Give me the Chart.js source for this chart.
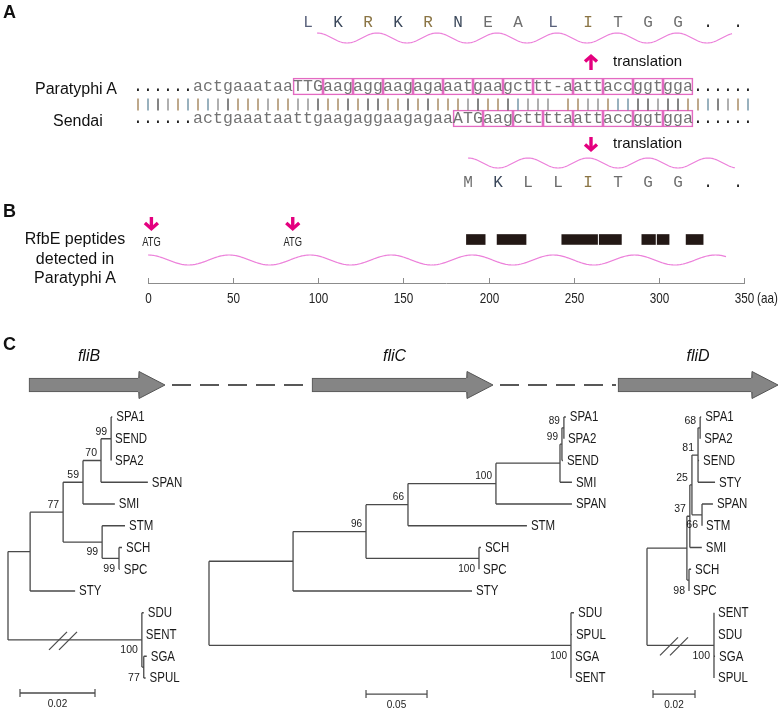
<!DOCTYPE html>
<html lang="en">
<head>
<meta charset="UTF-8">
<title>Paratyphi A rfbE / flagellin figure</title>
<script src="https://cdn.jsdelivr.net/npm/chart.js"></script>
<style>
  body { margin: 0; background: #fff; }
  #fig { position: relative; width: 778px; height: 709px; overflow: hidden; font-family: 'Liberation Sans', Arial, sans-serif; color: #111; }
  canvas { position: absolute; }
  .lab { position: absolute; white-space: nowrap; line-height: 1; }
  .panel { font-weight: bold; font-size: 18px; }
</style>
</head>
<body>
<div id="fig">
  <canvas id="chartA" width="778" height="190" style="left:0;top:0"></canvas>
  <canvas id="chartB" width="778" height="125" style="left:0;top:190px"></canvas>
  <canvas id="genes" width="778" height="70" style="left:0;top:340px"></canvas>
  <canvas id="treeB" width="200" height="310" style="left:0;top:400px"></canvas>
  <canvas id="treeC" width="420" height="310" style="left:200px;top:400px"></canvas>
  <canvas id="treeD" width="158" height="310" style="left:620px;top:400px"></canvas>

  <div class="lab panel" style="left:3px;top:3px">A</div>
  <div class="lab panel" style="left:3px;top:202px">B</div>
  <div class="lab panel" style="left:3px;top:335px">C</div>
  <div class="lab" style="left:35px;top:81px;font-size:16px">Paratyphi A</div>
  <div class="lab" style="left:53px;top:113px;font-size:16px">Sendai</div>
  <div class="lab" style="left:0;top:229px;width:150px;text-align:center;font-size:16px;line-height:19.5px">RfbE peptides<br>detected in<br>Paratyphi A</div>
</div>

<script>
  // ---- panel A : alignment around the rfbE start ----
  const seqParatyphiA = '......actgaaataaTTGaagaggaagagaaatgaagcttt-aattaccggtgga......';
  const seqSendai     = '......actgaaataattgaagaggaagagaaATGaagcttttaattaccggtgga......';
  // column where each boxed codon starts (last value = end of the last codon)
  const codonsParatyphiA = [16, 19, 22, 25, 28, 31, 34, 37, 40, 44, 47, 50, 53, 56];
  const codonsSendai     = [32, 35, 38, 41, 44, 47, 50, 53, 56];
  const aaParatyphiA = ['L', 'K', 'R', 'K', 'R', 'N', 'E', 'A', 'L', 'I', 'T', 'G', 'G', '.', '.'];
  const aaSendai     = ['M', 'K', 'L', 'L', 'I', 'T', 'G', 'G', '.', '.'];

  // ---- panel B : RfbE protein (aa) ----
  const rfbeLength = 340;
  const axisTicks = [0, 50, 100, 150, 200, 250, 300, 350];
  const atgSites = [2, 85];
  const peptides = [[187, 198], [205, 222], [243, 264], [265, 278], [290, 298], [299, 306], [316, 326]];

  // ---- panel C : flagellar genes (schematic map) and trees ----
  const genes = ['fliB', 'fliC', 'fliD'];
  const geneStart = [29, 312, 618];
  const geneEnd = [165, 493, 778];
  const treeFliB = '((((((SPA1:0.0003,SEND:0,SPA2:0)99:0.0027,SPAN:0.0125)70:0.0048,SMI:0.0085)59:0.0053,' +
    '(STM:0.0061,(SCH:0.0008,SPC:0.0002)99:0.0045)99:0.0104)77:0.0088,STY:0.012):0.0059,' +
    '(SDU:0.0005,SENT:0,(SGA:0.0008,SPUL:0.0005)77:0.0005)100:0.0357);';
  const treeFliC = '((((((((SPA1:0.0016,SPA2:0)89:0.0016,SEND:0.0008)99:0.0016,SMI:0.0098):0.0525,SPAN:0.0623)100:0.0721,' +
    'STM:0.0975)66:0.0344,(SCH:0.0016,SPC:0)100:0.0926)96:0.0598,STY:0.1467):0.0689,' +
    '(SDU:0.0025,SPUL:0.0008,SGA:0,SENT:0)100:0.2967);';
  const treeFliD = '((((((SPA1:0.0005,SPA2:0)68:0.001,SEND:0.0005,STY:0.0081)81:0.0029,(SPAN:0.0052,STM:0)66:0.0048)25:0.001,' +
    'SMI:0.0057)37:0.0014,(SCH:0.001,SPC:0)98:0.001):0.019,(SENT:0,SDU:0,SGA:0.0005,SPUL:0)100:0.0319);';
  const scaleBars = [0.02, 0.05, 0.02];

  // ---- styles ----
  const SANS = "'Liberation Sans', Arial, sans-serif";
  const MONO = "'Liberation Mono', 'Courier New', monospace";
  const PINK_BOX = '#e36ac2';
  const WAVE = '#ec80da';
  const MAGENTA = '#e4007f';
  const baseColor = { a: '#a3845a', c: '#6d90a3', g: '#505050', t: '#8e8e8e' };
  const aaColor = { L: '#58607a', K: '#3a475a', R: '#8b7545', N: '#3a475a', I: '#8b7545' };
  const rowY = { aaTop: 27, waveTop: 38, arrowUp: 62, seqTop: 86.5, match: 104.5, seqBottom: 118.5, arrowDown: 144, waveBottom: 163, aaBottom: 187 };

  const common = {
    responsive: false, animation: false, events: [],
    plugins: { legend: { display: false }, tooltip: { enabled: false } }
  };

  function line(ctx, x1, y1, x2, y2) {
    ctx.beginPath(); ctx.moveTo(x1, y1); ctx.lineTo(x2, y2); ctx.stroke();
  }

  // the figure's sans labels are condensed; squeeze Liberation Sans horizontally
  function narrowText(ctx, text, x, y, k) {
    ctx.save();
    ctx.translate(x, y);
    ctx.scale(k || 0.82, 1);
    ctx.fillText(text, 0, 0);
    ctx.restore();
  }

  function wave(ctx, xs, from, to, period, yc, amp) {
    const p0 = xs.getPixelForValue(from), p1 = xs.getPixelForValue(to);
    const pp = xs.getPixelForValue(from + period) - p0;
    ctx.save();
    ctx.strokeStyle = WAVE; ctx.lineWidth = 1.2;
    ctx.beginPath();
    for (let p = p0; p <= p1; p += 1) {
      const y = yc - amp * Math.cos(2 * Math.PI * (p - p0) / pp);
      p === p0 ? ctx.moveTo(p, y) : ctx.lineTo(p, y);
    }
    ctx.stroke();
    ctx.restore();
  }

  function arrow(ctx, x, tipY, tailY, half) {
    const d = tailY > tipY ? 1 : -1;
    ctx.save();
    ctx.strokeStyle = MAGENTA; ctx.lineWidth = 3.4; ctx.lineJoin = 'miter';
    line(ctx, x, tipY + d * 2, x, tailY);
    ctx.beginPath();
    ctx.moveTo(x - half, tipY + d * (half + 0.5));
    ctx.lineTo(x, tipY + d * 1.2);
    ctx.lineTo(x + half, tipY + d * (half + 0.5));
    ctx.stroke();
    ctx.restore();
  }

  // ---------- panel A ----------
  const codonBoxes = (starts, row) => starts.slice(0, -1).map((s, k) => ({ x: [s - 0.5, starts[k + 1] - 0.5], y: row }));
  const aaPos = starts => k => k < starts.length - 1
    ? (starts[k] + starts[k + 1] - 1) / 2
    : starts[starts.length - 1] + 1 + 3 * (k - starts.length + 1);

  const alignmentText = {
    id: 'alignmentText',
    afterDatasetsDraw(chart) {
      const { ctx, scales: { x, y } } = chart;
      const px = v => x.getPixelForValue(v), py = v => y.getPixelForValue(v);
      ctx.save();
      // identity bars
      ctx.lineWidth = 1.4;
      for (let i = 0; i < seqParatyphiA.length; i++) {
        const a = seqParatyphiA[i].toLowerCase(), b = seqSendai[i].toLowerCase();
        if (a !== b) continue;
        ctx.strokeStyle = baseColor[a] || Object.values(baseColor)[i % 4];
        line(ctx, px(i), py(rowY.match) - 6, px(i), py(rowY.match) + 6);
      }
      // nucleotides
      ctx.font = '16.5px ' + MONO;
      ctx.textAlign = 'center';
      ctx.textBaseline = 'alphabetic';
      [[seqParatyphiA, rowY.seqTop], [seqSendai, rowY.seqBottom]].forEach(([seq, row]) => {
        [...seq].forEach((c, i) => {
          ctx.fillStyle = c === '.' ? '#222' : '#737373';
          ctx.fillText(c, px(i), py(row) + 4.5);
        });
      });
      // amino acids
      ctx.font = '16px ' + MONO;
      [[aaParatyphiA, codonsParatyphiA, rowY.aaTop], [aaSendai, codonsSendai, rowY.aaBottom]].forEach(([aa, cod, row]) => {
        const pos = aaPos(cod);
        aa.forEach((a, k) => {
          ctx.fillStyle = aa === aaSendai && a === 'L' ? '#6a6a6a' : (aaColor[a] || (a === '.' ? '#222' : '#6e6e6e'));
          ctx.fillText(a, px(pos(k)), py(row));
        });
      });
      // protein waves
      wave(ctx, x, 17.9, 59.4, 6, py(rowY.waveTop), 5);
      wave(ctx, x, 33, 59.7, 6, py(rowY.waveBottom), 5);
      // translation arrows
      const ax = px(45.3);
      arrow(ctx, ax, py(rowY.arrowUp) - 7, py(rowY.arrowUp) + 8, 6);
      arrow(ctx, ax, py(rowY.arrowDown) + 7, py(rowY.arrowDown) - 7, 6);
      ctx.fillStyle = '#111';
      ctx.font = '15px ' + SANS;
      ctx.textAlign = 'left';
      ctx.textBaseline = 'middle';
      ctx.fillText('translation', ax + 22, py(rowY.arrowUp));
      ctx.fillText('translation', ax + 22, py(rowY.arrowDown));
      ctx.restore();
    }
  };

  new Chart(document.getElementById('chartA'), {
    type: 'bar',
    data: {
      datasets: [{
        label: 'codons',
        data: [...codonBoxes(codonsParatyphiA, rowY.seqTop), ...codonBoxes(codonsSendai, rowY.seqBottom)],
        backgroundColor: 'rgba(0,0,0,0)',
        borderColor: PINK_BOX,
        borderWidth: 1,
        borderSkipped: false,
        barThickness: 17
      }]
    },
    options: {
      ...common,
      indexAxis: 'y',
      layout: { padding: 0 },
      scales: {
        x: { type: 'linear', display: false, min: -13.8, max: 64 },
        y: { type: 'linear', display: false, reverse: true, min: 0, max: 190, offset: false }
      }
    },
    plugins: [alignmentText]
  });

  // ---------- panel B ----------
  const peptideDecor = {
    id: 'peptideDecor',
    afterDatasetsDraw(chart) {
      const { ctx, chartArea, scales: { x, y } } = chart;
      const yc = y.getPixelForValue(0);
      const axisY = chartArea.bottom;
      ctx.save();
      // axis ticks point up, labels squeezed like the original
      ctx.strokeStyle = '#8c8c8c'; ctx.lineWidth = 1;
      ctx.fillStyle = '#222';
      ctx.font = '15px ' + SANS;
      ctx.textAlign = 'center'; ctx.textBaseline = 'middle';
      x.ticks.forEach((t, i) => {
        const tx = Math.round(x.getPixelForTick(i)) + 0.5;
        line(ctx, tx, axisY, tx, axisY - 5);
        narrowText(ctx, String(t.value), tx, axisY + 16, 0.78);
      });
      ctx.textAlign = 'left';
      narrowText(ctx, '(aa)', x.getPixelForValue(350) + 13, axisY + 16, 0.78);
      // start codons
      ctx.font = '12px ' + SANS;
      ctx.textAlign = 'center';
      atgSites.forEach(a => {
        const ax = x.getPixelForValue(a);
        arrow(ctx, ax, yc - 9.5, yc - 22.5, 6.5);
        ctx.fillStyle = '#222';
        narrowText(ctx, 'ATG', ax, yc + 3, 0.78);
      });
      wave(ctx, x, 0, rfbeLength, 47.6, yc + 20.5, 5);
      ctx.restore();
    }
  };

  new Chart(document.getElementById('chartB'), {
    type: 'bar',
    data: {
      labels: ['RfbE'],
      datasets: [{
        label: 'peptides detected in Paratyphi A',
        data: peptides.map(p => ({ x: p, y: 'RfbE' })),
        backgroundColor: '#231815',
        borderWidth: 0,
        barThickness: 10
      }]
    },
    options: {
      ...common,
      indexAxis: 'y',
      layout: { padding: { left: 148, right: 34, top: 6, bottom: 32 } },
      scales: {
        x: {
          type: 'linear', min: 0, max: 350,
          afterBuildTicks: s => { s.ticks = axisTicks.map(v => ({ value: v })); },
          grid: { drawOnChartArea: false, drawTicks: false },
          border: { color: '#8c8c8c' },
          ticks: { display: false }
        },
        y: { display: false }
      }
    },
    plugins: [peptideDecor]
  });

  // ---------- panel C : gene map ----------
  const HEAD = 26;
  const geneDecor = {
    id: 'geneDecor',
    afterDatasetsDraw(chart) {
      const { ctx, scales: { x, y } } = chart;
      const yc = y.getPixelForValue(0);
      ctx.save();
      genes.forEach((g, k) => {
        const bx = x.getPixelForValue(geneEnd[k] - HEAD), tip = x.getPixelForValue(geneEnd[k]);
        ctx.fillStyle = '#858585';
        ctx.beginPath();
        ctx.moveTo(bx - 1, yc - 6.5); ctx.lineTo(bx, yc - 13.5); ctx.lineTo(tip, yc);
        ctx.lineTo(bx, yc + 13.5); ctx.lineTo(bx - 1, yc + 6.5); ctx.closePath(); ctx.fill();
        ctx.strokeStyle = '#555'; ctx.lineWidth = 1;
        ctx.beginPath();
        ctx.moveTo(bx, yc - 7); ctx.lineTo(bx, yc - 13.5); ctx.lineTo(tip, yc);
        ctx.lineTo(bx, yc + 13.5); ctx.lineTo(bx, yc + 7); ctx.stroke();
        ctx.fillStyle = '#111';
        ctx.font = 'italic 16px ' + SANS;
        ctx.textAlign = 'center'; ctx.textBaseline = 'middle';
        ctx.fillText(g, (x.getPixelForValue(geneStart[k]) + tip) / 2 - (k === 2 ? 0 : 8), yc - 28);
        if (k < genes.length - 1) {
          ctx.strokeStyle = '#222'; ctx.lineWidth = 1.5; ctx.setLineDash([19, 9]);
          line(ctx, tip + 7, yc, x.getPixelForValue(geneStart[k + 1]) - 2, yc);
          ctx.setLineDash([]);
        }
      });
      ctx.restore();
    }
  };

  new Chart(document.getElementById('genes'), {
    type: 'bar',
    data: {
      labels: ['genes'],
      datasets: [{
        label: 'genes',
        data: genes.map((g, k) => ({ x: [geneStart[k], geneEnd[k] - HEAD], y: 'genes' })),
        backgroundColor: '#858585',
        borderColor: '#555',
        borderWidth: 1,
        borderSkipped: 'right',
        barThickness: 14
      }]
    },
    options: {
      ...common,
      indexAxis: 'y',
      layout: { padding: { top: 20 } },
      scales: {
        x: { type: 'linear', display: false, min: 0, max: 778 },
        y: { display: false }
      }
    },
    plugins: [geneDecor]
  });

  // ---------- panel C : trees ----------
  function parseNewick(s) {
    let i = 0;
    function node() {
      const n = { children: [], len: 0 };
      if (s[i] === '(') {
        i++;
        n.children.push(node());
        while (s[i] === ',') { i++; n.children.push(node()); }
        i++;
      }
      let lab = '';
      while (i < s.length && !':,);'.includes(s[i])) lab += s[i++];
      if (s[i] === ':') {
        i++;
        let num = '';
        while (i < s.length && !',);'.includes(s[i])) num += s[i++];
        n.len = parseFloat(num);
      }
      if (n.children.length) n.support = lab; else n.name = lab;
      return n;
    }
    return node();
  }

  function layoutTree(newick) {
    const root = parseNewick(newick);
    const nodes = [];
    let tip = 0;
    (function walk(n, x, parent) {
      n.x = x; n.parent = parent; nodes.push(n);
      if (n.children.length) {
        n.children.forEach(c => walk(c, x + c.len, n));
        n.y = (n.children[0].y + n.children[n.children.length - 1].y) / 2;
      } else {
        n.y = tip++;
      }
    })(root, 0, null);
    return { root, nodes };
  }

  const treeViews = [
    { id: 'treeB', newick: treeFliB, xMin: -0.002133, xMax: 0.0512, breakAt: 0.01467, bar: [0.0032, 12.69, scaleBars[0]], supFont: 10.5 },
    { id: 'treeC', newick: treeFliC, xMin: -0.007377, xMax: 0.336885, breakAt: null, bar: [0.1287, 12.74, scaleBars[1]], supFont: 10 },
    { id: 'treeD', newick: treeFliD, xMin: -0.012857, xMax: 0.062381, breakAt: 0.01286, bar: [0.00286, 12.74, scaleBars[2]], supFont: 10.5 }
  ];

  treeViews.forEach(v => {
    const t = layoutTree(v.newick);
    const gap = { x: NaN, y: NaN };
    const segs = [];
    t.nodes.forEach(n => {
      if (n.parent) segs.push({ x: n.parent.x, y: n.y }, { x: n.x, y: n.y }, gap);
      if (n.children.length) segs.push({ x: n.x, y: n.children[0].y }, { x: n.x, y: n.children[n.children.length - 1].y }, gap);
    });
    const [bx, by, blen] = v.bar;

    const treeText = {
      id: 'treeText',
      afterDatasetsDraw(chart) {
        const { ctx, scales: { x, y } } = chart;
        const px = d => x.getPixelForValue(d), py = d => y.getPixelForValue(d);
        ctx.save();
        ctx.fillStyle = '#1a1a1a';
        ctx.textBaseline = 'middle';
        ctx.font = '14px ' + SANS;
        ctx.textAlign = 'left';
        t.nodes.filter(n => n.name).forEach(n => narrowText(ctx, n.name, px(n.x) + 4, py(n.y) + 0.5));
        ctx.font = v.supFont + 'px ' + SANS;
        ctx.textAlign = 'right';
        t.nodes.filter(n => n.support).forEach(n => {
          const first = n.parent.children[0] === n;
          ctx.fillText(n.support, px(n.x) - 4, py(n.y) + (first ? -7 : 10.5));
        });
        ctx.strokeStyle = '#4a4a4a';
        ctx.lineWidth = 1.2;
        if (v.breakAt !== null) {
          const yb = py(t.root.children[t.root.children.length - 1].y);
          [-5, 5].forEach(dx => line(ctx, px(v.breakAt) + dx - 9, yb + 10, px(v.breakAt) + dx + 9, yb - 8));
        }
        line(ctx, px(bx), py(by) - 4, px(bx), py(by) + 4);
        line(ctx, px(bx + blen), py(by) - 4, px(bx + blen), py(by) + 4);
        ctx.font = '10px ' + SANS;
        ctx.textAlign = 'center';
        ctx.fillText(String(blen), px(bx + blen / 2), py(by) + 11);
        ctx.restore();
      }
    };

    new Chart(document.getElementById(v.id), {
      type: 'scatter',
      data: {
        datasets: [
          { label: 'branches', data: segs, showLine: true, spanGaps: false, borderColor: '#4a4a4a', borderWidth: 1.3, pointRadius: 0 },
          { label: 'scale', data: [{ x: bx, y: by }, { x: bx + blen, y: by }], showLine: true, borderColor: '#4a4a4a', borderWidth: 1.3, pointRadius: 0 }
        ]
      },
      options: {
        ...common,
        layout: { padding: 0 },
        scales: {
          x: { type: 'linear', display: false, min: v.xMin, max: v.xMax },
          y: { type: 'linear', display: false, reverse: true, min: -0.7816, max: 13.4713 }
        }
      },
      plugins: [treeText]
    });
  });
</script>
</body>
</html>
